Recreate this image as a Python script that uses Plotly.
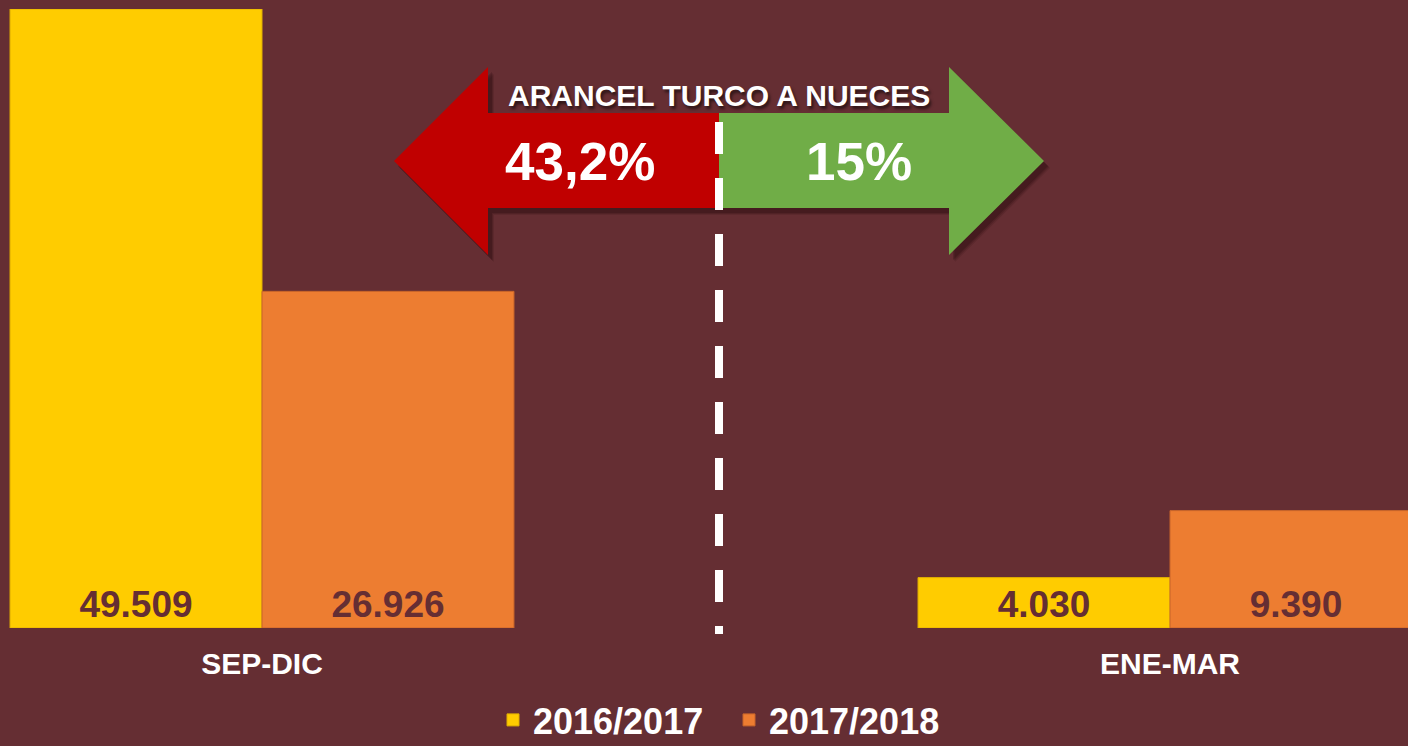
import plotly.graph_objects as go

# ---------------- data ----------------
categories = ["SEP-DIC", "ENE-MAR"]
series_names = ["2016/2017", "2017/2018"]
values_1617 = [49509, 4030]
values_1718 = [26926, 9390]
labels_1617 = ["49.509", "4.030"]
labels_1718 = ["26.926", "9.390"]
title_text = "ARANCEL TURCO A NUECES"
tariff_before = "43,2%"
tariff_after = "15%"

# ---------------- styling ----------------
BG = "#652E33"
YELLOW = "#FFCC00"
ORANGE = "#ED7D31"
RED = "#C00000"
GREEN = "#70AD47"
FONT = "Liberation Sans, Arial, sans-serif"

W, H = 1408, 746
ML, MR, MT, MB = 0, 0, 9, 118
PH = H - MT - MB


def px(x):
    return (x - ML) / (W - ML - MR)


def py(y):
    return (H - MB - y) / PH


def path(points):
    return "M " + " L ".join(f"{px(x):.5f},{py(y):.5f}" for x, y in points) + " Z"


fig = go.Figure()
fig.add_trace(go.Bar(
    x=categories, y=values_1617, name=series_names[0],
    marker=dict(color=YELLOW, line=dict(color="#E0B000", width=1)),
    text=labels_1617, textposition="inside", insidetextanchor="start",
    textfont=dict(family=FONT, size=37, color=BG, weight="bold"),
    hoverinfo="skip",
))
fig.add_trace(go.Bar(
    x=categories, y=values_1718, name=series_names[1],
    marker=dict(color=ORANGE, line=dict(color="#C8652A", width=1)),
    text=labels_1718, textposition="inside", insidetextanchor="start",
    textfont=dict(family=FONT, size=37, color=BG, weight="bold"),
    hoverinfo="skip",
))

# ---------------- arrow decoration ----------------
shadow_pts = [(394, 161), (488, 67), (488, 113), (949, 113), (949, 67), (1044, 161),
              (949, 255), (949, 208), (488, 208), (488, 255)]
red_pts = [(394, 161), (488, 67), (488, 113), (719, 113), (719, 208), (488, 208), (488, 255)]
green_pts = [(719, 113), (949, 113), (949, 67), (1044, 161), (949, 255), (949, 208), (719, 208)]

shapes = []
for dx, dy, op in [(6, 7, 0.12), (5, 6, 0.18), (4, 5, 0.25)]:
    shapes.append(dict(type="path", xref="paper", yref="paper",
                       path=path([(x + dx, y + dy) for x, y in shadow_pts]),
                       fillcolor=f"rgba(35,8,12,{op})", line=dict(width=0)))
shapes.append(dict(type="path", xref="paper", yref="paper", path=path(red_pts),
                   fillcolor=RED, line=dict(width=0)))
shapes.append(dict(type="path", xref="paper", yref="paper", path=path(green_pts),
                   fillcolor=GREEN, line=dict(width=0)))
shapes.append(dict(type="line", xref="paper", yref="paper",
                   x0=px(719), x1=px(719), y0=py(122), y1=py(634),
                   line=dict(color="white", width=8, dash="32px,24px")))

annotations = [
    dict(xref="paper", yref="paper", x=px(719), y=py(95), text=title_text,
         showarrow=False, xanchor="center", yanchor="middle",
         font=dict(family=FONT, size=30, color="white", weight="bold",
                   shadow="2px 3px 3px rgba(0,0,0,0.55)")),
    dict(xref="paper", yref="paper", x=px(580), y=py(161), text=tariff_before,
         showarrow=False, xanchor="center", yanchor="middle",
         font=dict(family=FONT, size=53, color="white", weight="bold")),
    dict(xref="paper", yref="paper", x=px(859), y=py(161), text=tariff_after,
         showarrow=False, xanchor="center", yanchor="middle",
         font=dict(family=FONT, size=53, color="white", weight="bold")),
]

x_min = -262 / 908
x_max = (1408 - 262) / 908

fig.update_layout(
    width=W, height=H,
    margin=dict(l=ML, r=MR, t=MT, b=MB, pad=0, autoexpand=False),
    paper_bgcolor=BG, plot_bgcolor=BG,
    barmode="group", bargap=0.445, bargroupgap=0,
    shapes=shapes, annotations=annotations,
    uniformtext=dict(minsize=37, mode="show"),
    showlegend=True,
    legend=dict(orientation="h", xref="paper", yref="paper",
                x=px(493), xanchor="left", y=py(720), yanchor="middle",
                font=dict(family=FONT, size=36, color="white", weight="bold"),
                bgcolor="rgba(0,0,0,0)", itemclick=False, itemdoubleclick=False,
                entrywidth=191, tracegroupgap=0),
    xaxis=dict(type="category", range=[x_min, x_max], showgrid=False, zeroline=False,
               showline=False, ticks="", fixedrange=True, automargin=False,
               tickfont=dict(family=FONT, size=30, color="white", weight="bold"),
               ticklabelstandoff=15),
    yaxis=dict(range=[0, 49509], visible=False, showgrid=False, zeroline=False,
               fixedrange=True),
    hovermode=False,
)

fig.write_html("out.html", config={"displayModeBar": False},
               post_script="document.body.style.margin='0px';document.body.style.overflow='hidden';")
